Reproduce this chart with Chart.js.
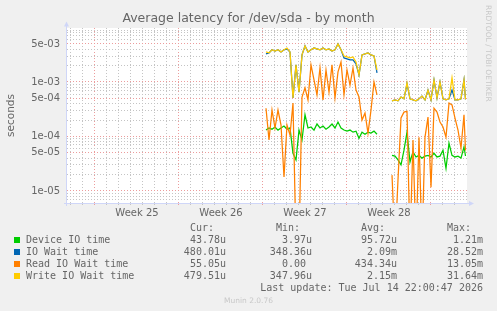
<!DOCTYPE html>
<html>
<head>
<meta charset="utf-8">
<script src="https://cdn.jsdelivr.net/npm/chart.js"></script>
<style>
body { margin: 0; background: #f0f0f0; }
#wrap { position: relative; width: 497px; height: 311px; overflow: hidden; }
#wrap canvas { position: absolute; left: 0; top: 0; }
.t { position: absolute; white-space: pre; font: 10px "DejaVu Sans Mono", monospace; color: #666; line-height: 12px; }
.sw { position: absolute; width: 6px; height: 6px; }
.mark { position: absolute; white-space: pre; font: 7.5px "DejaVu Sans", sans-serif; color: #c8c8c8; line-height: 9px; }
</style>
</head>
<body>
<div id="wrap">
  <canvas id="myChart" width="497" height="311"></canvas>
  <div class="mark" style="left:484px; top:5px; writing-mode:vertical-rl;">RRDTOOL / TOBI OETIKER</div>
  <div class="mark" style="left:0; width:497px; text-align:center; top:296px;">Munin 2.0.76</div>
</div>
<script>
// time in days, 0 = start of week 25
var times = [14.25,14.5,14.75,15,15.25,15.5,15.75,16,16.25,16.5,16.75,17,17.25,17.5,17.75,18,18.25,18.5,18.75,19,
  19.25,19.5,19.75,20,20.25,20.5,20.75,21,21.25,21.5,21.75,22,22.25,22.5,22.75,23,23.25,23.5,
  24,
  24.75,25,25.25,25.5,25.75,26,26.25,26.5,26.75,27,27.25,27.5,27.75,28,28.25,28.5,28.75,29,29.25,29.5,29.75,30,30.25,30.5,30.75,30.875];

var deviceIO = [1.31e-4,1.43e-4,1.36e-4,1.49e-4,1.31e-4,1.43e-4,1.55e-4,1.36e-4,1.43e-4,4.9e-5,3.7e-5,1.31e-4,8.6e-5,2.5e-4,1.43e-4,1.49e-4,1.31e-4,1.69e-4,1.43e-4,1.55e-4,
  1.36e-4,1.49e-4,1.69e-4,1.43e-4,1.84e-4,1.43e-4,1.31e-4,1.25e-4,1.31e-4,1.2e-4,1.25e-4,9.3e-5,1.2e-4,1.1e-4,1.2e-4,1.15e-4,1.25e-4,1.1e-4,
  null,
  4.5e-5,4.35e-5,3.7e-5,3.0e-5,5.6e-5,1.2e-4,3.4e-5,5.2e-5,4.2e-5,4.5e-5,4.0e-5,4.35e-5,4.5e-5,4.2e-5,4.9e-5,4.2e-5,4.35e-5,5.6e-5,2.6e-5,7.5e-5,4.5e-5,4.2e-5,4.35e-5,4.0e-5,6.4e-5,4.38e-5];

var ioWait = [3.27e-3,3.42e-3,3.9e-3,3.7e-3,3.9e-3,3.56e-3,3.9e-3,4.05e-3,3.56e-3,5.1e-4,2.06e-3,6.5e-4,3.14e-3,4.6e-3,3.56e-3,3.9e-3,4.2e-3,4.05e-3,3.9e-3,4.2e-3,
  3.9e-3,4.05e-3,3.7e-3,3.9e-3,5.0e-3,3.9e-3,2.77e-3,2.65e-3,2.54e-3,2.54e-3,2.15e-3,1.35e-3,3.14e-3,3.27e-3,3.42e-3,3.14e-3,3.0e-3,1.47e-3,
  null,
  4.5e-4,4.7e-4,4.5e-4,5.3e-4,4.9e-4,9.3e-4,4.9e-4,4.7e-4,4.5e-4,4.9e-4,5.5e-4,4.7e-4,7.1e-4,4.7e-4,1.09e-3,5.1e-4,1.0e-3,4.9e-4,4.7e-4,4.9e-4,7.1e-4,4.7e-4,4.7e-4,4.9e-4,1.09e-3,4.8e-4];

// 1e-6 = zero reading, drawn below the axis floor
var readWait = [3.3e-4,8.6e-5,3.05e-4,1.43e-4,3.05e-4,1.62e-4,1.8e-5,1.62e-4,1.06e-4,4.1e-4,1e-6,1e-6,5.3e-4,7.8e-4,4.7e-4,2.06e-3,1.09e-3,5.8e-4,1.81e-3,4.7e-4,
  1.66e-3,6.5e-4,2.06e-3,5.1e-4,1.53e-3,2.33e-3,5.8e-4,1.66e-3,8.8e-4,1.81e-3,7.1e-4,5.3e-4,2.0e-4,2.7e-4,1.15e-4,3.05e-4,1.0e-3,5.8e-4,
  null,
  1.95e-5,1e-6,1.6e-5,2.18e-4,2.8e-4,2.9e-4,1e-6,8.6e-5,1e-6,9.7e-5,1e-6,9.7e-5,2.27e-4,1.17e-5,3.3e-4,2.8e-4,1.84e-4,1.49e-4,9.7e-5,4.1e-4,3.8e-4,2.18e-4,1.31e-4,6.1e-5,2.5e-4,5.5e-5];

var writeWait = [3.56e-3,3.42e-3,3.9e-3,3.7e-3,3.9e-3,3.56e-3,3.9e-3,4.2e-3,3.56e-3,5.1e-4,2.06e-3,6.5e-4,3.14e-3,4.6e-3,3.56e-3,3.9e-3,4.2e-3,4.05e-3,3.9e-3,4.2e-3,
  3.9e-3,4.05e-3,3.7e-3,3.9e-3,5.0e-3,3.9e-3,3.0e-3,2.88e-3,2.77e-3,2.88e-3,2.33e-3,1.35e-3,3.14e-3,3.27e-3,3.42e-3,3.14e-3,3.0e-3,1.66e-3,
  null,
  4.5e-4,4.7e-4,4.5e-4,5.3e-4,4.9e-4,9.6e-4,4.9e-4,4.7e-4,4.5e-4,4.9e-4,5.5e-4,4.7e-4,7.1e-4,4.7e-4,1.09e-3,5.1e-4,1.0e-3,4.9e-4,4.7e-4,4.9e-4,1.19e-3,4.7e-4,4.7e-4,4.9e-4,1.09e-3,4.8e-4];

var seriesNames = ["Device IO time", "IO Wait time", "Read IO Wait time", "Write IO Wait time"];
var seriesColors = ["#00cc00", "#0066b3", "#ff8000", "#ffcc00"];
var curValues = ["43.78u", "480.01u", "55.05u", "479.51u"];
var minValues = ["3.97u", "348.36u", "0.00 ", "347.96u"];
var avgValues = ["95.72u", "2.09m", "434.34u", "2.15m"];
var maxValues = ["1.21m", "28.52m", "13.05m", "31.64m"];
var headers = ["Cur:  ", "Min:  ", "Avg:  ", "Max:  "];

var weekLabels = ["Week 25", "Week 26", "Week 27", "Week 28"];
var weekCenters = [3.5, 10.5, 17.5, 24.5];
var yLabelValues = [1e-5, 5e-5, 1e-4, 5e-4, 1e-3, 5e-3];
var yLabels = ["1e-05", "5e-05", "1e-04", "5e-04", "1e-03", "5e-03"];
var yMinorGrid = [7e-6,8e-6,9e-6,2e-5,3e-5,4e-5,6e-5,7e-5,8e-5,9e-5,2e-4,3e-4,4e-4,6e-4,7e-4,8e-4,9e-4,2e-3,3e-3,4e-3,6e-3,7e-3,8e-3,9e-3];

var minorGrid = "#c4c4c4";
var majorGrid = "#ec9c9c";
var axisColor = "#cfd6f8";
var fontColor = "#666";

function pts(vals) {
  return times.map(function (t, i) { return {x: t, y: vals[i]}; });
}

var muninFrame = {
  id: "muninFrame",
  beforeDraw: function (chart) {
    var ctx = chart.ctx, a = chart.chartArea;
    ctx.save();
    ctx.fillStyle = "#f0f0f0";
    ctx.fillRect(0, 0, chart.width, chart.height);
    ctx.fillStyle = "#ffffff";
    ctx.fillRect(a.left, a.top, a.right - a.left, a.bottom - a.top);
    ctx.restore();
  },
  beforeDatasetsDraw: function (chart) {
    var ctx = chart.ctx, a = chart.chartArea;
    ctx.save();
    ctx.strokeStyle = axisColor;
    ctx.fillStyle = axisColor;
    ctx.lineWidth = 1;
    ctx.beginPath();
    ctx.moveTo(a.left - 0.5, a.bottom + 3);
    ctx.lineTo(a.left - 0.5, a.top - 2);
    ctx.moveTo(a.left - 3, a.bottom + 0.5);
    ctx.lineTo(a.right + 2, a.bottom + 0.5);
    ctx.stroke();
    ctx.beginPath();
    ctx.moveTo(a.left - 0.5, a.top - 6.5);
    ctx.lineTo(a.left - 3, a.top - 1.5);
    ctx.lineTo(a.left + 2, a.top - 1.5);
    ctx.closePath();
    ctx.fill();
    ctx.beginPath();
    ctx.moveTo(a.right + 7, a.bottom + 0.5);
    ctx.lineTo(a.right + 2, a.bottom - 2);
    ctx.lineTo(a.right + 2, a.bottom + 3);
    ctx.closePath();
    ctx.fill();
    ctx.restore();
  }
};

new Chart("myChart", {
  type: "line",
  data: {
    datasets: [
      { label: seriesNames[0], data: pts(deviceIO), borderColor: seriesColors[0], order: 4 },
      { label: seriesNames[1], data: pts(ioWait), borderColor: seriesColors[1], order: 3 },
      { label: seriesNames[2], data: pts(readWait), borderColor: seriesColors[2], order: 2 },
      { label: seriesNames[3], data: pts(writeWait), borderColor: seriesColors[3], order: 1 }
    ]
  },
  options: {
    responsive: false,
    animation: false,
    spanGaps: false,
    elements: {
      line: { borderWidth: 1.25, tension: 0, fill: false },
      point: { radius: 0 }
    },
    layout: { padding: 0 },
    plugins: {
      legend: { display: false },
      tooltip: { enabled: false },
      title: {
        display: true,
        text: "Average latency for /dev/sda - by month",
        color: fontColor,
        font: { family: "DejaVu Sans", size: 12.5, weight: "normal" },
        padding: { top: 11, bottom: 2 }
      }
    },
    scales: {
      x: {
        type: "linear",
        min: -2.3333,
        max: 31,
        afterBuildTicks: function (s) {
          var t = [];
          for (var d = -2; d <= 30; d++) t.push({ value: d });
          weekCenters.forEach(function (v) { t.push({ value: v }); });
          t.sort(function (a, b) { return a.value - b.value; });
          s.ticks = t;
        },
        afterFit: function (s) { s.height = 108; },
        ticks: {
          autoSkip: false, maxRotation: 0, padding: 2, color: fontColor,
          font: { family: "DejaVu Sans", size: 10 },
          callback: function (v) {
            var i = weekCenters.indexOf(v);
            return i >= 0 ? weekLabels[i] : "";
          }
        },
        grid: {
          drawTicks: true,
          tickLength: 2,
          color: function (c) {
            var v = c.tick.value;
            if (weekCenters.indexOf(v) >= 0) return "rgba(0,0,0,0)";
            return v % 7 === 0 ? majorGrid : minorGrid;
          },
          tickColor: function (c) {
            var v = c.tick.value;
            if (weekCenters.indexOf(v) >= 0) return "rgba(0,0,0,0)";
            return v % 7 === 0 ? majorGrid : minorGrid;
          }
        },
        border: { display: false, dash: [1, 2] }
      },
      y: {
        type: "logarithmic",
        min: 6e-6,
        max: 9.8e-3,
        afterBuildTicks: function (s) {
          s.ticks = yLabelValues.concat(yMinorGrid)
            .sort(function (a, b) { return a - b; })
            .map(function (v) { return { value: v }; });
        },
        afterFit: function (s) { s.width = 67; },
        ticks: {
          autoSkip: false, padding: 7, color: fontColor,
          font: { family: "DejaVu Sans", size: 10 },
          callback: function (v) {
            var i = yLabelValues.indexOf(v);
            return i >= 0 ? yLabels[i] : "";
          }
        },
        grid: {
          drawTicks: false,
          color: function (c) {
            return yLabelValues.indexOf(c.tick.value) >= 0 ? majorGrid : minorGrid;
          }
        },
        border: { display: false, dash: [1, 2] },
        title: {
          display: true, text: "seconds", color: fontColor,
          font: { family: "DejaVu Sans", size: 10.5 },
          padding: { top: 5, bottom: 0 }
        }
      },
      rightGap: {
        type: "linear",
        position: "right",
        afterFit: function (s) { s.width = 30; },
        ticks: { display: false },
        grid: { display: false, drawTicks: false },
        border: { display: false }
      }
    }
  },
  plugins: [muninFrame]
});

// legend table below the chart
var wrap = document.getElementById("wrap");
var colRight = [226, 312, 397, 483];
function addText(txt, top, left, right) {
  var d = document.createElement("div");
  d.className = "t";
  d.textContent = txt;
  d.style.top = top + "px";
  if (left !== null) d.style.left = left + "px";
  if (right !== null) d.style.right = (497 - right) + "px";
  wrap.appendChild(d);
}
headers.forEach(function (h, j) { addText(h, 222, null, colRight[j]); });
seriesNames.forEach(function (name, i) {
  var top = 234 + i * 12;
  var sw = document.createElement("div");
  sw.className = "sw";
  sw.style.left = "14px";
  sw.style.top = (top + 3) + "px";
  sw.style.background = seriesColors[i];
  wrap.appendChild(sw);
  addText(name, top, 26, null);
  [curValues, minValues, avgValues, maxValues].forEach(function (col, j) {
    addText(col[i], top, null, colRight[j]);
  });
});
addText("Last update: Tue Jul 14 22:00:47 2026", 282, null, 483);
</script>
</body>
</html>
